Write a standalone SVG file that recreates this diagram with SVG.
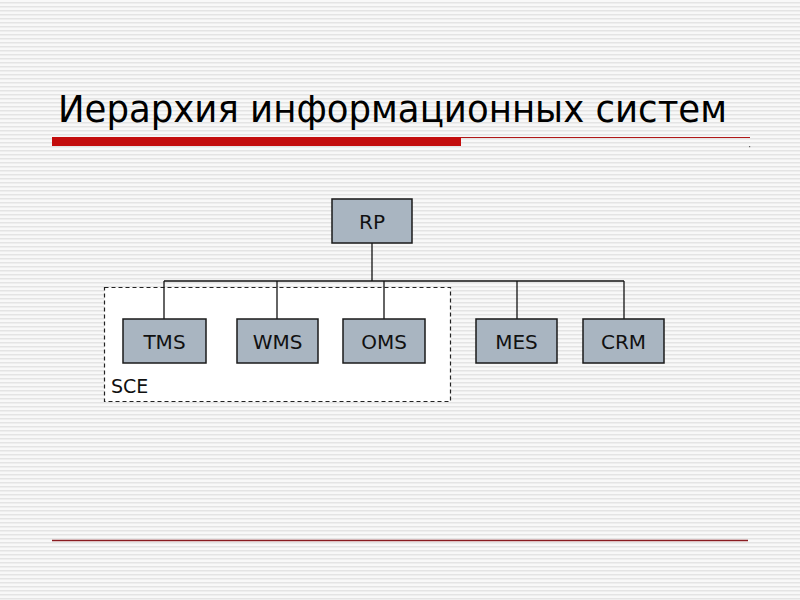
<svg xmlns="http://www.w3.org/2000/svg" width="800" height="600" viewBox="0 0 800 600">
  <defs>
    <pattern id="stripes" x="0" y="0" width="8" height="4" patternUnits="userSpaceOnUse">
      <rect width="8" height="4" fill="#f8f8f8"/>
      <rect y="2" width="8" height="1.5" fill="#e4e4e4"/>
    </pattern>
  </defs>
  <style>
    .box { fill: #a9b5c1; stroke: #1a1a1a; stroke-width: 1.5; }
    .lbl { font-family: "DejaVu Sans", "Liberation Sans", sans-serif; font-size: 20px; fill: #111; text-anchor: middle; }
    .conn { stroke: #111; stroke-width: 1.3; fill: none; }
  </style>
  <rect width="800" height="600" fill="url(#stripes)"/>

  <text x="58" y="122" font-family="DejaVu Sans, Liberation Sans, sans-serif" font-size="37" fill="#000" textLength="669" lengthAdjust="spacingAndGlyphs">Иерархия информационных систем</text>
  <rect x="52" y="137" width="409" height="9" fill="#c30d0d"/>
  <line x1="461" y1="137.5" x2="750" y2="137.5" stroke="#b01818" stroke-width="1.2"/>
  <rect x="749" y="146" width="1.2" height="1.2" fill="#666"/>
  <line x1="52" y1="540.5" x2="748" y2="540.5" stroke="#8a1c22" stroke-width="1.3"/>

  <g id="sce">
    <rect x="104.5" y="287.5" width="346" height="114" fill="#ffffff" stroke="#222" stroke-width="1.2" stroke-dasharray="4,3"/>
    <text x="111" y="393" font-family="DejaVu Sans, Liberation Sans, sans-serif" font-size="19" fill="#111">SCE</text>
  </g>

  <g id="connectors">
    <line class="conn" x1="372" y1="243" x2="372" y2="281"/>
    <line class="conn" x1="164" y1="281" x2="624" y2="281"/>
    <line class="conn" x1="164" y1="281" x2="164" y2="319"/>
    <line class="conn" x1="277" y1="281" x2="277" y2="319"/>
    <line class="conn" x1="384" y1="281" x2="384" y2="319"/>
    <line class="conn" x1="517" y1="281" x2="517" y2="319"/>
    <line class="conn" x1="624" y1="281" x2="624" y2="319"/>
  </g>

  <g id="rp"><rect class="box" x="332" y="199" width="80" height="44"/><text class="lbl" x="372" y="229">RP</text></g>
  <g id="tms"><rect class="box" x="123" y="319" width="83" height="44"/><text class="lbl" x="164.5" y="349">TMS</text></g>
  <g id="wms"><rect class="box" x="237" y="319" width="81" height="44"/><text class="lbl" x="277.5" y="349">WMS</text></g>
  <g id="oms"><rect class="box" x="343" y="319" width="82" height="44"/><text class="lbl" x="384" y="349">OMS</text></g>
  <g id="mes"><rect class="box" x="476" y="319" width="81" height="44"/><text class="lbl" x="516.5" y="349">MES</text></g>
  <g id="crm"><rect class="box" x="583" y="319" width="81" height="44"/><text class="lbl" x="623.5" y="349">CRM</text></g>
</svg>
